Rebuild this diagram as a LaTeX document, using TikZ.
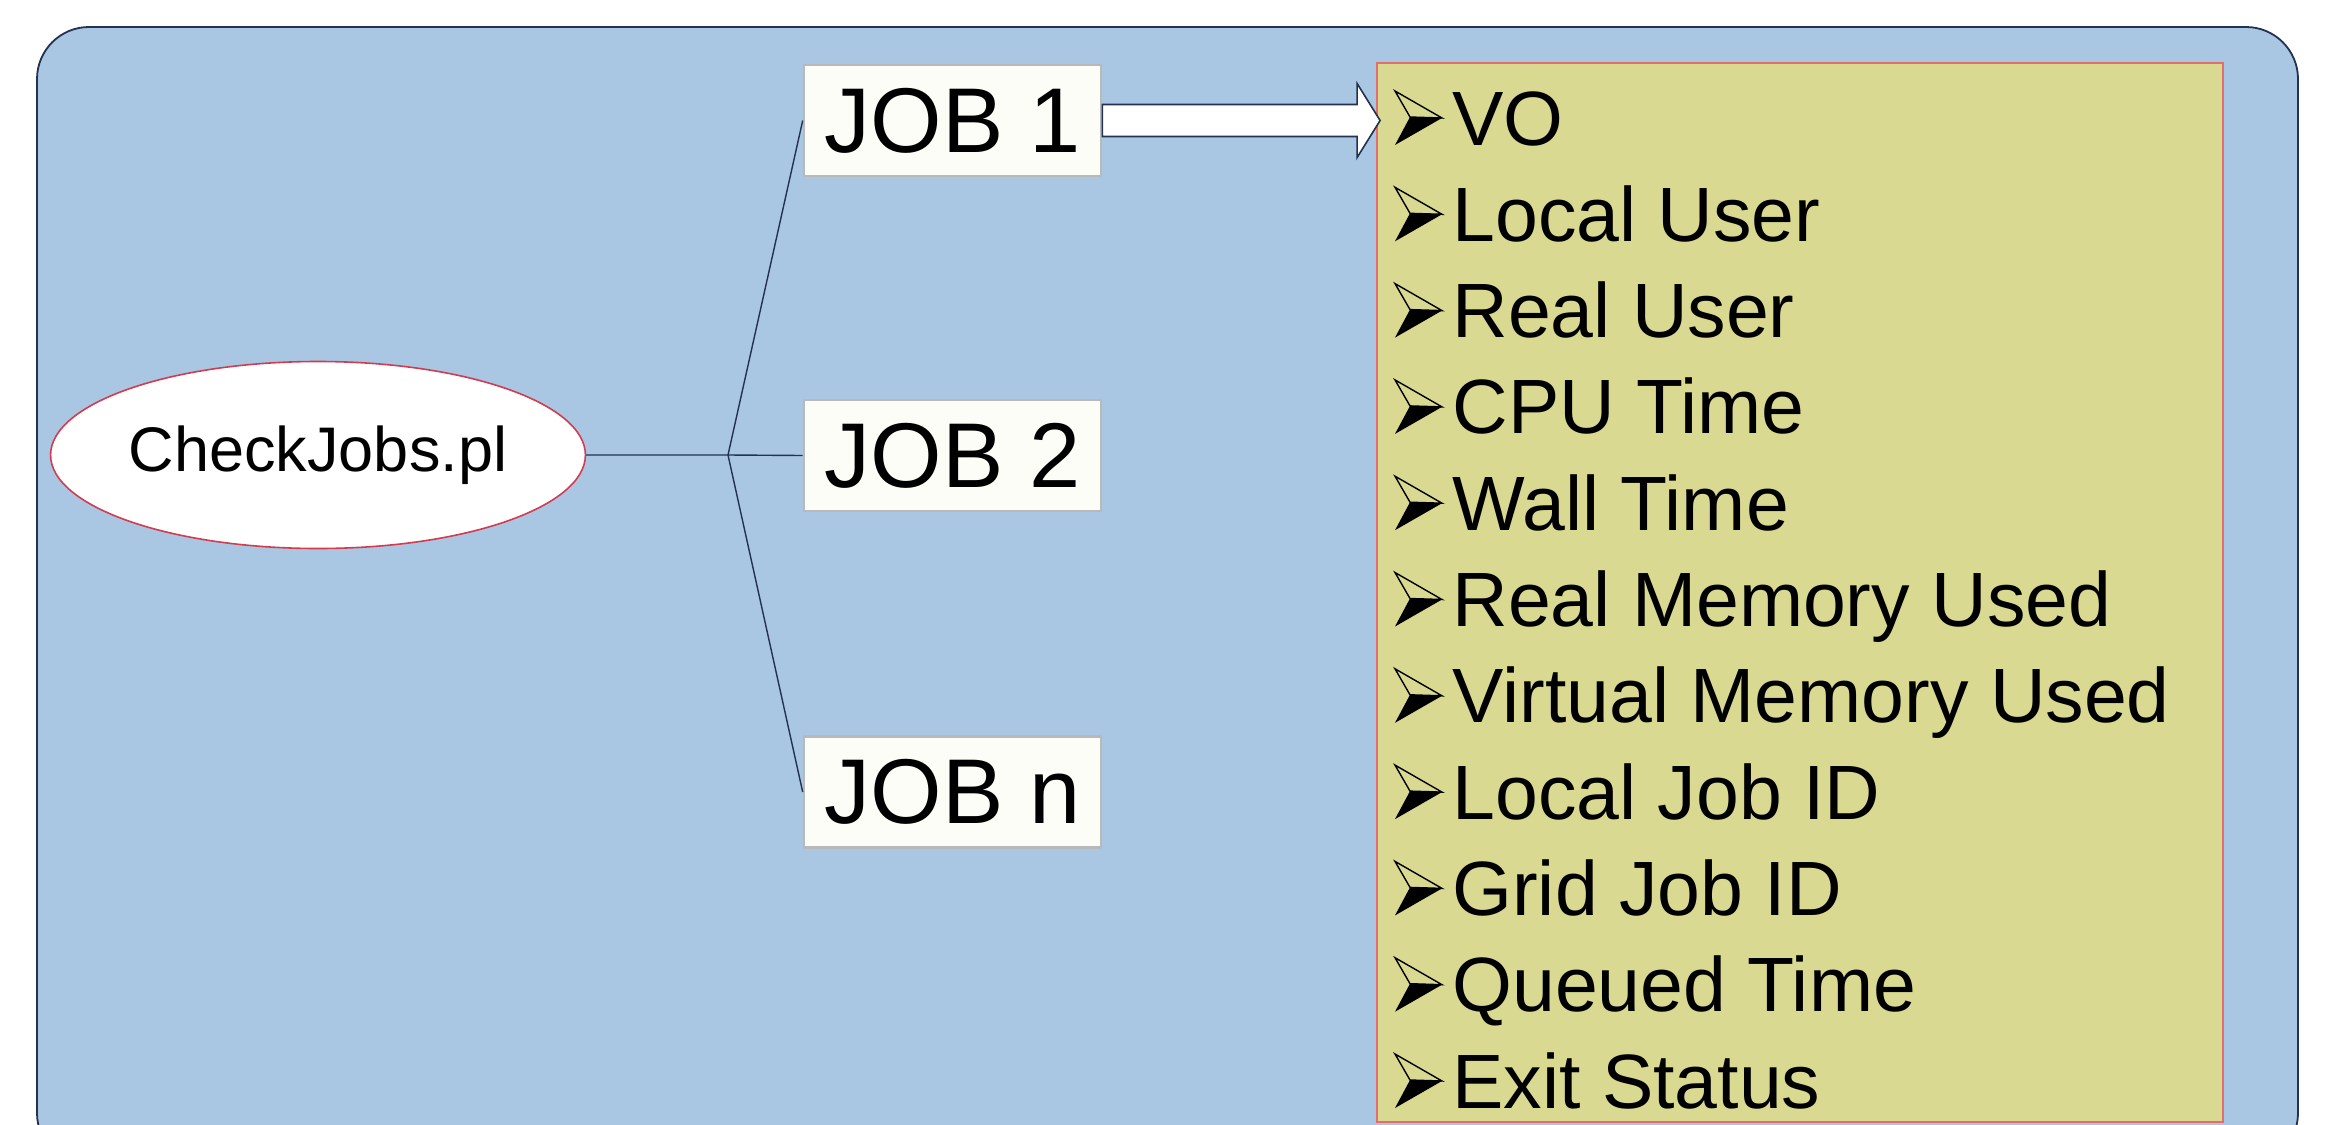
\documentclass[tikz,border=0pt]{standalone}
\usepackage{fontspec}
\setmainfont{Liberation Sans}
\usetikzlibrary{calc,shapes.geometric}
\definecolor{bgblue}{RGB}{169,198,227}
\definecolor{navy}{RGB}{35,50,80}
\definecolor{infoyellow}{RGB}{217,217,145}
\definecolor{infored}{RGB}{228,110,110}
\definecolor{ellred}{RGB}{210,60,80}
\definecolor{jobfill}{RGB}{253,253,248}
\definecolor{jobedge}{RGB}{185,185,185}
\tikzset{
  bgbox/.style={fill=bgblue, draw=navy, line width=0.9pt, rounded corners=26pt},
  infobox/.style={rectangle, fill=infoyellow, draw=infored, line width=0.9pt,
    minimum width=423pt, minimum height=529.5pt, inner sep=0pt},
  scriptnode/.style={ellipse, fill=white, draw=ellred, line width=0.8pt,
    minimum width=263.5pt, minimum height=93.5pt, inner sep=0pt,
    font=\fontsize{31.5pt}{36pt}\selectfont},
  jobbox/.style={rectangle, fill=jobfill, draw=jobedge, line width=1.3pt,
    minimum width=148.5pt, minimum height=55.5pt, inner sep=0pt,
    font=\fontsize{46pt}{52pt}\selectfont},
  link/.style={draw=navy, line width=0.7pt},
  blockarrow/.style={fill=white, draw=navy, line width=0.8pt, line join=miter},
  item/.style={anchor=base west, inner sep=0pt, font=\fontsize{38.5pt}{46pt}\selectfont},
  bulletmark/.pic={
    \fill[black] (15,-28) -- (47,-27) -- (0,0) -- cycle;
    \draw[black, line width=0.7pt, line join=miter] (0,-54) -- (47,-27) -- (15,-28) -- cycle;
  }
}
\begin{document}
\begin{tikzpicture}[x=0.5pt,y=-0.5pt]
\useasboundingbox (0,0) rectangle (2326,1125);
\clip (0,0) rectangle (2326,1125);
\fill[white] (0,0) rectangle (2326,1125);
\draw[bgbox] (37,27) rectangle (2298,1165);
\node[infobox] (info) at (1800,592.5) {};
\foreach \t [count=\i from 0] in {VO,Local User,Real User,CPU Time,Wall Time,Real Memory Used,Virtual Memory Used,Local Job ID,Grid Job ID,Queued Time,Exit Status}{
  \node[item] (it\i) at (1452,{145+96.3*\i}) {\t};
  \pic (b\i) at (1395,{145+96.3*\i}) {bulletmark};
}
\node[scriptnode] (cj) at (318,455) {CheckJobs.pl};
\node[jobbox] (job1) at (952.5,120.5) {JOB 1};
\node[jobbox] (job2) at (952.5,455.5) {JOB 2};
\node[jobbox] (jobn) at (952.5,792) {JOB n};
\coordinate (br) at (728,455);
\draw[link] (cj.east) -- (br) -- (job2.west);
\draw[link] (br) -- (job1.west);
\draw[link] (br) -- (jobn.west);
\coordinate (ae) at (info.west |- job1.east);
\draw[blockarrow] ($(job1.east)+(0,-16)$) -- ($(ae)+(-19,-16)$) -- ($(ae)+(-19,-37)$)
  -- ($(ae)+(4,0)$) -- ($(ae)+(-19,37)$) -- ($(ae)+(-19,16)$) -- ($(job1.east)+(0,16)$) -- cycle;
\end{tikzpicture}
\end{document}
